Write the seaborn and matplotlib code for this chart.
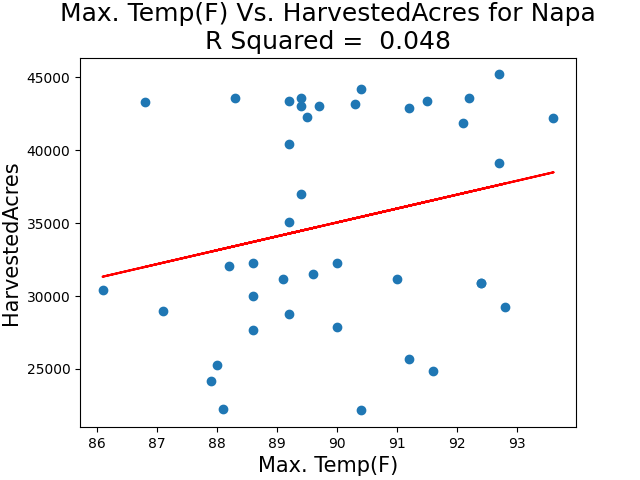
import numpy as np
import pandas as pd
import matplotlib
matplotlib.use("Agg")
import matplotlib.pyplot as plt
import seaborn as sns

max_temp = [86.8, 88.3, 89.2, 89.4, 89.4, 89.5, 89.7, 89.2, 89.4, 89.2,
            90.3, 90.4, 91.2, 91.5, 92.2, 92.1, 92.7, 93.6, 92.7,
            86.1, 87.1, 88.2, 88.6, 88.6, 88.6, 89.1, 89.2, 89.6, 88.0, 87.9, 88.1,
            90.0, 91.0, 92.4, 92.4, 92.8, 90.0, 91.2, 91.6, 90.4]
harvested_acres = [43300, 43600, 43400, 43600, 43000, 42300, 43000, 40400, 37000, 35050,
                   43200, 44200, 42900, 43400, 43600, 41900, 45200, 42200, 39100,
                   30450, 29000, 32050, 32300, 30000, 27650, 31150, 28800, 31500, 25250, 24150, 22230,
                   32250, 31150, 30870, 30870, 29225, 27850, 25680, 24830, 22160]
r_squared_text = "0.048"

df = pd.DataFrame({"temp": max_temp, "acres": harvested_acres})

fig, ax = plt.subplots(figsize=(6.4, 4.8), dpi=100)
sns.scatterplot(data=df, x="temp", y="acres", ax=ax, s=36, linewidth=1,
                edgecolor="face", color="#1f77b4")
x = np.array(max_temp)
m, b = np.polyfit(x, np.array(harvested_acres, dtype=float), 1)
ax.plot(x, m * x + b, color="red")
ax.set_title(f"Max. Temp(F) Vs. HarvestedAcres for Napa\nR Squared =  {r_squared_text}", fontsize=18)
ax.set_xlabel("Max. Temp(F)", fontsize=15)
ax.set_ylabel("HarvestedAcres", fontsize=15)
fig.savefig("out.png", dpi=100)
